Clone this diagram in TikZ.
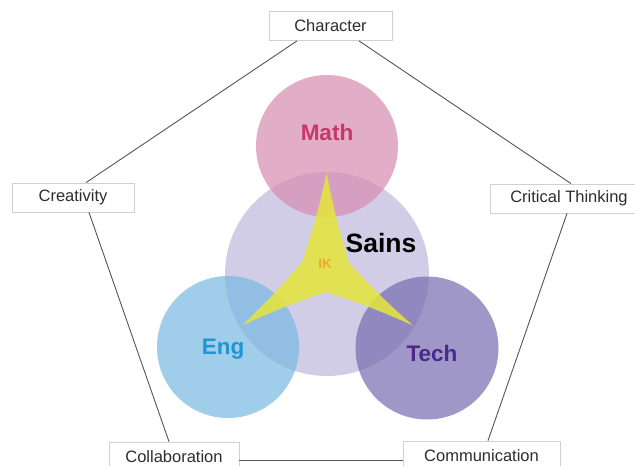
\documentclass[tikz,border=0pt]{standalone}
\usepackage{fontspec}
\setmainfont{Liberation Sans}
\usepackage{xcolor}
\usepackage{tikz}
\usetikzlibrary{positioning}
\definecolor{mathpink}{RGB}{214,140,176}
\definecolor{sainslav}{RGB}{210,205,230}
\definecolor{engblue}{RGB}{119,184,226}
\definecolor{techpurple}{RGB}{119,108,176}
\definecolor{ikyellow}{RGB}{228,228,62}
\definecolor{mathtext}{RGB}{200,55,105}
\definecolor{engtext}{RGB}{30,150,210}
\definecolor{techtext}{RGB}{75,40,140}
\definecolor{iktext}{RGB}{240,170,40}
\definecolor{boxline}{RGB}{208,208,208}
\definecolor{linkgray}{RGB}{85,85,85}
\definecolor{skilltext}{RGB}{45,45,45}
\tikzset{
    skill/.style = {rectangle, draw=boxline, fill=white, line width=0.8pt, minimum height=29pt, inner sep=0pt, text=skilltext, font=\fontsize{16.5}{19}\selectfont},
    link/.style = {draw=linkgray, line width=0.9pt},
    ring/.style = {circle, inner sep=0pt, fill opacity=0.7},
    subject/.style = {inner sep=0pt, font=\bfseries\fontsize{22.5}{25}\selectfont}
}
\begin{document}
\begin{tikzpicture}[x=1pt, y=-1pt]
    \useasboundingbox (0,0) rectangle (635,466);
    \fill[white] (0,0) rectangle (635,466);
    % STEM circles
    \node [ring, fill=sainslav, fill opacity=1, minimum size=204pt] (sains) at (327,274) {};
    \node [ring, fill=mathpink, minimum size=142pt] (math) at (327,146) {};
    \node [ring, fill=engblue, minimum size=142pt] (eng) at (228,347) {};
    \node [ring, fill=techpurple, minimum size=143pt] (tech) at (427,348) {};
    % IK star
    \fill [ikyellow, fill opacity=0.87] (326.7,172.7) to[bend right=3] (349,263)
        to[bend right=3] (413,325.5) to[bend right=3] (326,292)
        to[bend right=3] (242,325.5) to[bend right=3] (302,262)
        to[bend right=3] cycle;
    \node [subject, text=mathtext] (mathlabel) at (327,132) {Math};
    \node [subject, font=\bfseries\fontsize{26.5}{29}\selectfont] (sainslabel) at (381,243) {Sains};
    \node [subject, text=engtext] (englabel) at (223,349) {Eng};
    \node [subject, text=techtext] (techlabel) at (432,353) {Tech};
    \node [subject, text=iktext, font=\bfseries\fontsize{13.5}{15}\selectfont] (iklabel) at (325,264) {IK};
    % skills
    \node [skill, minimum width=123pt] (char) at (330.5,26) {Character};
    \node [skill, minimum width=122pt] (creat) at (73,197.5) {Creativity};
    \node [skill, minimum width=158pt] (crit) at (569,198.5) {Critical Thinking};
    \node [skill, minimum width=130pt] (collab) at (174,456.5) {Collaboration};
    \node [skill, minimum width=157pt] (comm) at (481.5,455.5) {Communication};
    \draw [link] ([xshift=-33.5pt]char.south) -- ([xshift=13pt]creat.north);
    \draw [link] ([xshift=28.5pt]char.south) -- ([xshift=2pt]crit.north);
    \draw [link] ([xshift=16pt]creat.south) -- ([xshift=-5pt]collab.north);
    \draw [link] ([xshift=-2pt]crit.south) -- ([xshift=6.5pt]comm.north);
    \draw [link] ([yshift=-3.5pt]collab.east) -- ([yshift=-4.5pt]comm.west);
\end{tikzpicture}
\end{document}
